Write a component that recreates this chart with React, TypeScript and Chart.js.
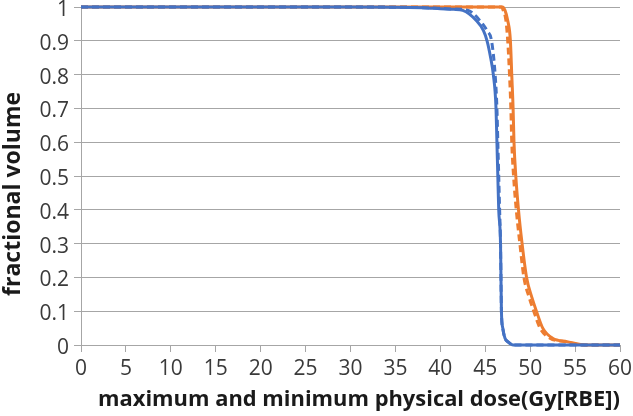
import React, { useEffect, useRef } from "react";
import { Chart, registerables } from "chart.js";

Chart.register(...registerables);

const xTicks = [0, 5, 10, 15, 20, 25, 30, 35, 40, 45, 50, 55, 60];
const yTicks = [0, 0.1, 0.2, 0.3, 0.4, 0.5, 0.6, 0.7, 0.8, 0.9, 1];

const blueSolidDose = [0, 30, 38, 40, 41.5, 42.5, 44.0, 44.8, 45.2, 45.6, 45.9, 46.2, 46.3, 46.4, 46.5, 46.7, 46.75, 46.8, 46.95, 47.2, 47.6, 48.1, 60];
const blueSolidVol = [1, 1, 0.998, 0.995, 0.993, 0.99, 0.96, 0.93, 0.9, 0.85, 0.8, 0.7, 0.6, 0.5, 0.4, 0.3, 0.2, 0.1, 0.05, 0.02, 0.008, 0, 0];

const blueDashDose = [0, 30, 38, 40, 41.5, 43.1, 44.4, 45.2, 45.7, 46.1, 46.3, 46.4, 46.5, 46.6, 46.7, 46.75, 46.8, 46.95, 47.2, 47.6, 48.1, 60];
const blueDashVol = [1, 1, 0.998, 0.996, 0.994, 0.99, 0.96, 0.93, 0.9, 0.8, 0.7, 0.6, 0.5, 0.4, 0.3, 0.2, 0.1, 0.05, 0.02, 0.008, 0, 0];

const orangeSolidDose = [0, 46.9, 47.2, 47.5, 47.8, 47.95, 48.1, 48.2, 48.4, 48.7, 49.1, 49.6, 50.2, 50.7, 51.4, 52.5, 54.1, 56.3, 60];
const orangeSolidVol = [1, 1, 0.99, 0.96, 0.9, 0.8, 0.7, 0.6, 0.5, 0.4, 0.3, 0.2, 0.14, 0.1, 0.05, 0.02, 0.01, 0, 0];

const orangeDashDose = [0, 46.8, 47.0, 47.3, 47.5, 47.7, 47.85, 47.95, 48.15, 48.45, 48.85, 49.3, 49.9, 50.4, 51.1, 52.2, 53.8, 56.0, 60];
const orangeDashVol = [1, 1, 0.99, 0.96, 0.9, 0.8, 0.7, 0.6, 0.5, 0.4, 0.3, 0.2, 0.14, 0.1, 0.05, 0.02, 0.01, 0, 0];

const xTitle = "   maximum and minimum physical dose(Gy[RBE])";
const yTitle = "fractional volume\u00A0\u00A0\u00A0\u00A0\u00A0\u00A0";

const BLUE = "#4472C4";
const ORANGE = "#ED7D31";
const GRID = "#a6a6a6";

function pts(xs: number[], ys: number[]) {
  return xs.map((x, i) => ({ x, y: ys[i] }));
}

export default function App() {
  const ref = useRef<HTMLCanvasElement | null>(null);
  useEffect(() => {
    if (!ref.current) return;
    const font = "'Open Sans', 'Liberation Sans', sans-serif";
    const mk = (label: string, data: any, color: string, dash: number[]) => ({
      label,
      data,
      borderColor: color,
      backgroundColor: color,
      borderWidth: 3,
      borderDash: dash,
      pointRadius: 0,
      cubicInterpolationMode: "monotone" as const,
      fill: false,
      clip: 6,
    });
    const chart = new Chart(ref.current, {
      type: "line",
      data: {
        datasets: [
          mk("blue dashed", pts(blueDashDose, blueDashVol), BLUE, [7, 4]),
          mk("blue solid", pts(blueSolidDose, blueSolidVol), BLUE, []),
          mk("orange dashed", pts(orangeDashDose, orangeDashVol), ORANGE, [7, 4]),
          mk("orange solid", pts(orangeSolidDose, orangeSolidVol), ORANGE, []),
        ],
      },
      options: {
        animation: false,
        responsive: false,
        layout: { padding: { top: 7, right: 13, left: 0, bottom: 0 } },
        plugins: { legend: { display: false }, tooltip: { enabled: false } },
        scales: {
          x: {
            type: "linear",
            min: 0,
            max: 60,
            afterBuildTicks: (axis: any) => {
              axis.ticks = xTicks.map((v) => ({ value: v }));
            },
            afterFit: (axis: any) => {
              axis.height = 71;
              axis.paddingLeft = 0;
              axis.paddingRight = 0;
            },
            grid: { drawOnChartArea: false, tickLength: 7, color: GRID, lineWidth: 1 },
            border: { color: GRID, width: 1 },
            ticks: {
              color: "#3a3a3a",
              font: { family: font, size: 21 },
              padding: 4,
              maxRotation: 0,
            },
            title: {
              display: true,
              text: xTitle,
              color: "#1a1a1a",
              font: { family: font, size: 22, weight: "bold" },
              padding: { top: 0, bottom: 3 },
            },
          },
          y: {
            type: "linear",
            min: 0,
            max: 1,
            afterBuildTicks: (axis: any) => {
              axis.ticks = yTicks.map((v) => ({ value: v }));
            },
            afterFit: (axis: any) => {
              axis.width = 81;
              axis.paddingTop = 0;
              axis.paddingBottom = 0;
            },
            grid: { tickLength: 7, color: GRID, lineWidth: 1 },
            border: { color: GRID, width: 1 },
            ticks: {
              color: "#3a3a3a",
              font: { family: font, size: 21 },
              padding: 5,
              labelOffset: 3,
              callback: (v: any) => String(Math.round(Number(v) * 10) / 10),
            },
            title: {
              display: true,
              text: yTitle,
              color: "#1a1a1a",
              font: { family: font, size: 23, weight: "bold" },
              padding: { top: 0, bottom: 0 },
            },
          },
        },
      },
    });
    return () => chart.destroy();
  }, []);
  return (
    <div style={{ position: "fixed", left: 0, top: 0, width: 633, height: 416, background: "#fff" }}>
      <canvas ref={ref} width={633} height={416} />
    </div>
  );
}
